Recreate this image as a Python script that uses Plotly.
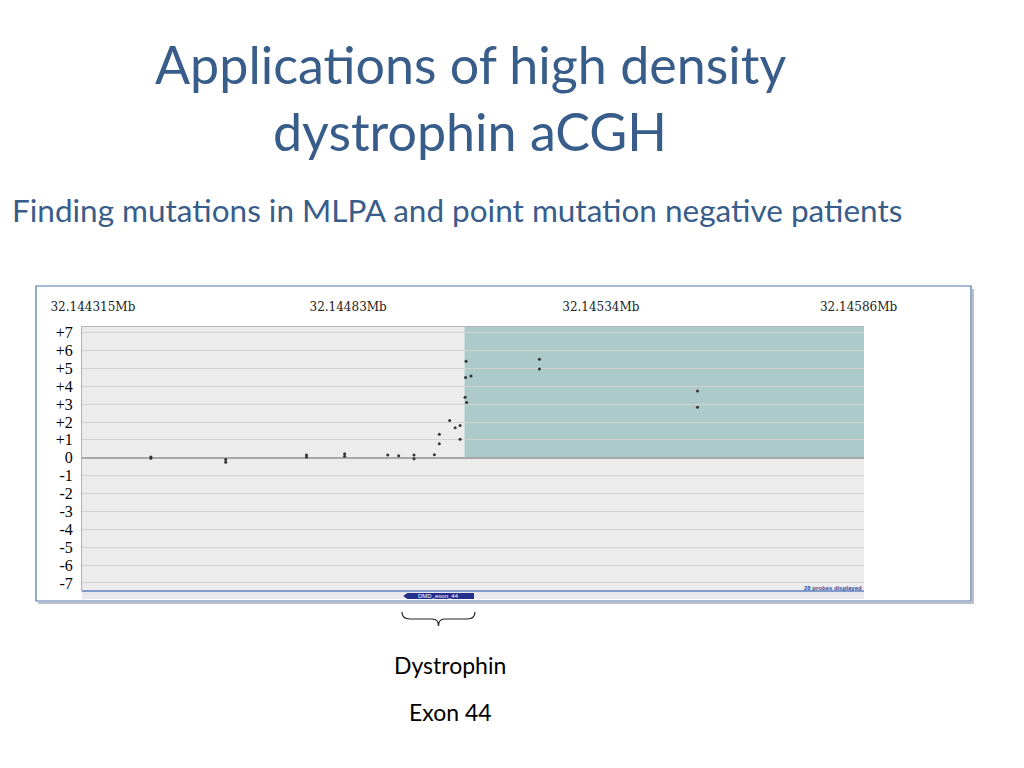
import plotly.graph_objects as go

# ---- data ----
probe_pos_mb = [32.144432, 32.144432, 32.144583, 32.144583, 32.144746, 32.144746,
                32.144823, 32.144823, 32.144910, 32.144932, 32.144963, 32.144963,
                32.145004, 32.145014, 32.145014, 32.145035, 32.145046, 32.145056,
                32.145056, 32.145068, 32.145067, 32.145078, 32.145066, 32.145069,
                32.145216, 32.145216, 32.145535, 32.145535]
log_ratio = [0.05, -0.03, -0.10, -0.25, 0.15, 0.05,
             0.22, 0.08, 0.15, 0.12, 0.15, -0.05,
             0.17, 1.32, 0.78, 2.09, 1.68, 1.81,
             1.04, 5.40, 4.49, 4.58, 3.39, 3.09,
             5.51, 4.97, 3.74, 2.82]
x_tick_vals = [32.144315, 32.14483, 32.14534, 32.14586]
x_tick_text = ["32.144315Mb", "32.14483Mb", "32.14534Mb", "32.14586Mb"]
y_tick_vals = [7, 6, 5, 4, 3, 2, 1, 0, -1, -2, -3, -4, -5, -6, -7]
y_tick_text = ["+7", "+6", "+5", "+4", "+3", "+2", "+1", "0", "-1", "-2", "-3", "-4", "-5", "-6", "-7"]
gain_region = [32.145065, 32.145871]
exon_region = [32.144941, 32.145084]
exon_label = "DMD_exon_44"
x_range = [32.144293, 32.145871]
y_range = [-7.45, 7.33]

W, H = 1024, 768
OFF = 8  # page body margin
def PX(px):
    return (px - OFF) / W
def PY(py):
    return 1 - (py - OFF) / H

BLUE = "#385D8A"

fig = go.Figure()
fig.add_trace(go.Scatter(
    x=probe_pos_mb, y=log_ratio, mode="markers",
    marker=dict(size=3, color="#333333"), hoverinfo="x+y", showlegend=False))

shapes = []
# outer frame shadow (right + bottom) and border
shapes.append(dict(type="path", xref="paper", yref="paper",
                   path=f"M {PX(973)},{PY(289)} L {PX(973)},{PY(603)} L {PX(38)},{PY(603)}",
                   line=dict(color="#a4adbb", width=1.5), layer="below"))
shapes.append(dict(type="rect", xref="paper", yref="paper",
                   x0=PX(36), x1=PX(971), y0=PY(601), y1=PY(286),
                   line=dict(color="#4f72a8", width=1.2), fillcolor="rgba(0,0,0,0)", layer="below"))
# gain region
shapes.append(dict(type="rect", xref="x", yref="y",
                   x0=gain_region[0], x1=gain_region[1], y0=0, y1=y_range[1],
                   line=dict(width=0), fillcolor="#adcaca", layer="below"))
# feature strip
shapes.append(dict(type="rect", xref="paper", yref="paper",
                   x0=PX(82), x1=PX(864), y0=PY(599), y1=PY(591),
                   line=dict(width=0), fillcolor="#e9e9ee"))
shapes.append(dict(type="line", xref="paper", yref="paper",
                   x0=PX(82), x1=PX(864), y0=PY(591), y1=PY(591),
                   line=dict(color="#5b7fc0", width=1.5)))
# exon arrow
ex0, ex1 = exon_region
tip = (ex1 - ex0) * 0.06
shapes.append(dict(type="path", xref="x", yref="paper",
                   path=(f"M {ex0},{(PY(593)+PY(599))/2} L {ex0+tip},{PY(593)} "
                         f"L {ex1},{PY(593)} L {ex1},{PY(599)} L {ex0+tip},{PY(599)} Z"),
                   line=dict(width=0), fillcolor="#262f8c"))
# brace
bx0, bx1 = PX(402), PX(475)
bm = (bx0 + bx1) / 2
y_top, y_mid, y_bot = PY(612), PY(619), PY(626)
dx = 8 / W
d6 = 6 / W
shapes.append(dict(type="path", xref="paper", yref="paper",
                   path=(f"M {bx0},{y_top} Q {bx0},{y_mid} {bx0+dx},{y_mid} "
                         f"L {bm-d6},{y_mid} Q {bm},{y_mid} {bm},{y_bot} "
                         f"Q {bm},{y_mid} {bm+d6},{y_mid} "
                         f"L {bx1-dx},{y_mid} Q {bx1},{y_mid} {bx1},{y_top}"),
                   line=dict(color="#222222", width=1.2)))

annotations = [
    dict(text="Applications of high density", x=PX(470), y=PY(64), xref="paper", yref="paper",
         showarrow=False, font=dict(family="Lato", size=52, color=BLUE), xanchor="center", yanchor="middle"),
    dict(text="dystrophin aCGH", x=PX(470), y=PY(131), xref="paper", yref="paper",
         showarrow=False, font=dict(family="Lato", size=52, color=BLUE), xanchor="center", yanchor="middle"),
    dict(text="Finding mutations in MLPA and point mutation negative patients", x=PX(10), y=PY(210),
         xref="paper", yref="paper", showarrow=False,
         font=dict(family="Lato", size=31.5, color=BLUE), xanchor="left", yanchor="middle"),
    dict(text="Dystrophin", x=PX(450), y=PY(665), xref="paper", yref="paper", showarrow=False,
         font=dict(family="Lato", size=23, color="black"), xanchor="center", yanchor="middle"),
    dict(text="Exon 44", x=PX(450), y=PY(712), xref="paper", yref="paper", showarrow=False,
         font=dict(family="Lato", size=23, color="black"), xanchor="center", yanchor="middle"),
    dict(text=exon_label, x=(ex0 + ex1) / 2, y=PY(596), xref="x", yref="paper", showarrow=False,
         font=dict(family="Liberation Sans", size=6, color="white"), xanchor="center", yanchor="middle"),
    dict(text="<b>28 probes displayed</b>", x=PX(864), y=PY(588), xref="paper", yref="paper",
         showarrow=False, font=dict(family="Liberation Sans", size=6, color="#2a4c9c"),
         xanchor="right", yanchor="middle"),
]

fig.update_layout(
    width=W, height=H, margin=dict(l=0, r=0, t=0, b=0, pad=0, autoexpand=False),
    paper_bgcolor="white", plot_bgcolor="#ececec",
    shapes=shapes, annotations=annotations,
    xaxis=dict(domain=[PX(82), PX(864)], range=x_range, side="top", automargin=False,
               tickvals=x_tick_vals, ticktext=x_tick_text, showgrid=False, zeroline=False,
               ticks="outside", ticklen=10, tickcolor="rgba(0,0,0,0)",
               tickfont=dict(family="DejaVu Serif", size=12, color="#222222"),
               showline=True, linecolor="#b4b4b4", linewidth=1, mirror=False, fixedrange=True),
    yaxis=dict(domain=[PY(591), PY(326.7)], range=y_range, automargin=False,
               tickvals=y_tick_vals, ticktext=y_tick_text,
               showgrid=True, gridcolor="#d2d2d2", gridwidth=1,
               zeroline=True, zerolinecolor="#a8a8a8", zerolinewidth=2,
               ticks="outside", ticklen=5, tickcolor="rgba(0,0,0,0)",
               tickfont=dict(family="Liberation Serif", size=16, color="black"),
               showline=True, linecolor="#b4b4b4", linewidth=1, fixedrange=True),
)

fig.write_html("out.html")
